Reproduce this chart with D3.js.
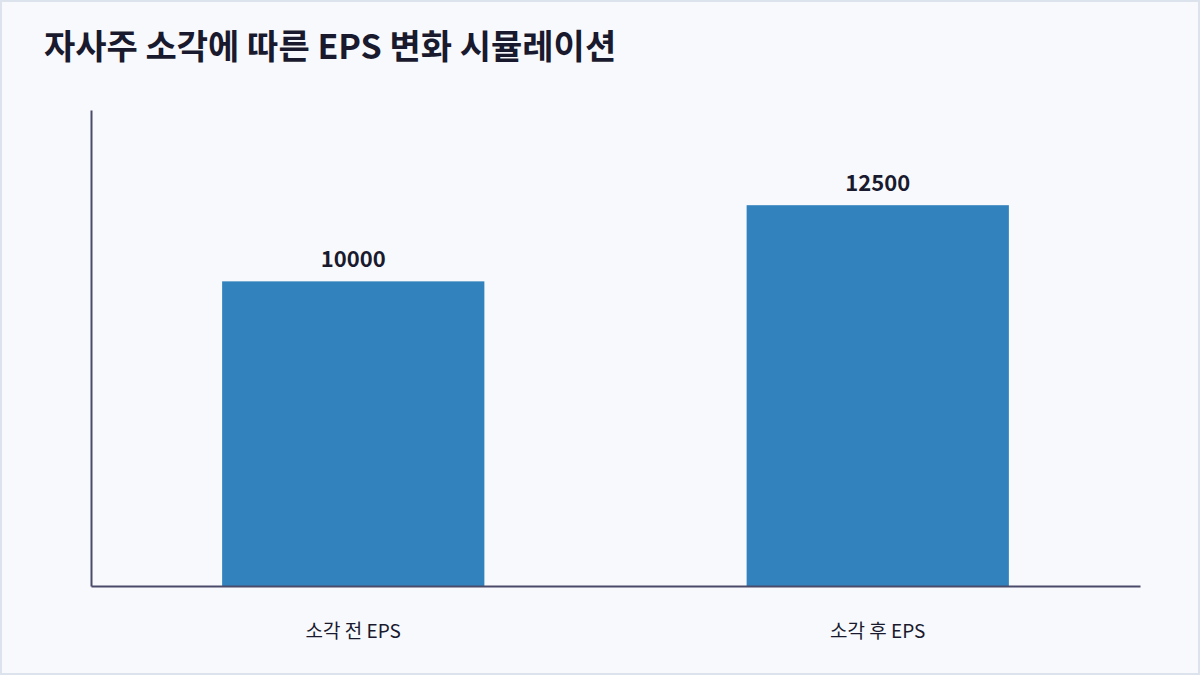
<!DOCTYPE html>
<html>
<head>
<meta charset="utf-8">
<script src="https://cdn.jsdelivr.net/npm/d3@7"></script>
<style>
  html, body { margin: 0; padding: 0; background: #ffffff; }
  svg { display: block; font-family: "Noto Sans CJK KR", "Noto Sans", sans-serif; }
</style>
</head>
<body>
<svg id="chart_root" width="1200" height="675"></svg>
<script>
// chart data
var chart_title = "자사주 소각에 따른 EPS 변화 시뮬레이션";
var categories = ["소각 전 EPS", "소각 후 EPS"];
var eps_values = [10000, 12500];

var total_width = 1200, total_height = 675;
var margin = {top: 110, right: 60, bottom: 89, left: 91};
var width = total_width - margin.left - margin.right;
var height = total_height - margin.top - margin.bottom;

var svg = d3.select("#chart_root");

// background card with thin border
svg.append("rect")
  .attr("x", 1).attr("y", 1)
  .attr("width", total_width - 2).attr("height", total_height - 2)
  .attr("fill", "#f8f9fd")
  .attr("stroke", "#dde3ec")
  .attr("stroke-width", 2);

svg.append("text")
  .attr("x", 44).attr("y", 59)
  .attr("fill", "#1a1a2e")
  .attr("font-size", 34)
  .attr("font-weight", 700)
  .text(chart_title);

var g = svg.append("g")
  .attr("transform", "translate(" + margin.left + "," + margin.top + ")");

var x = d3.scaleBand()
  .domain(categories)
  .range([0, width])
  .paddingInner(0.5)
  .paddingOuter(0.25);

var y = d3.scaleLinear()
  .domain([0, d3.max(eps_values) * 1.25])
  .range([height, 0]);

var data = categories.map(function(c, i) { return {cat: c, value: eps_values[i]}; });

// bars
g.selectAll(".bar")
  .data(data)
  .enter().append("rect")
  .attr("class", "bar")
  .attr("x", function(d) { return x(d.cat); })
  .attr("y", function(d) { return y(d.value); })
  .attr("width", x.bandwidth())
  .attr("height", function(d) { return height - y(d.value); })
  .attr("fill", "#3182bd");

// value labels
g.selectAll(".value-label")
  .data(data)
  .enter().append("text")
  .attr("class", "value-label")
  .attr("x", function(d) { return x(d.cat) + x.bandwidth() / 2; })
  .attr("y", function(d) { return y(d.value) - 14; })
  .attr("text-anchor", "middle")
  .attr("fill", "#1a1a2e")
  .attr("font-size", 22)
  .attr("font-weight", 700)
  .text(function(d) { return d.value; });

// x axis
var x_axis = g.append("g")
  .attr("class", "x-axis")
  .attr("transform", "translate(0," + height + ")")
  .call(d3.axisBottom(x).tickSize(0).tickPadding(39));
x_axis.select(".domain").attr("stroke", "#4a4a6a").attr("stroke-width", 2);
x_axis.selectAll(".tick text")
  .attr("fill", "#1a1a2e")
  .attr("font-size", 19)
  .style("font-family", "'Noto Sans CJK KR', sans-serif");

// y axis (line only)
var y_axis = g.append("g")
  .attr("class", "y-axis")
  .call(d3.axisLeft(y).ticks(0).tickSize(0).tickFormat(""));
y_axis.select(".domain").attr("stroke", "#4a4a6a").attr("stroke-width", 2);
</script>
</body>
</html>
